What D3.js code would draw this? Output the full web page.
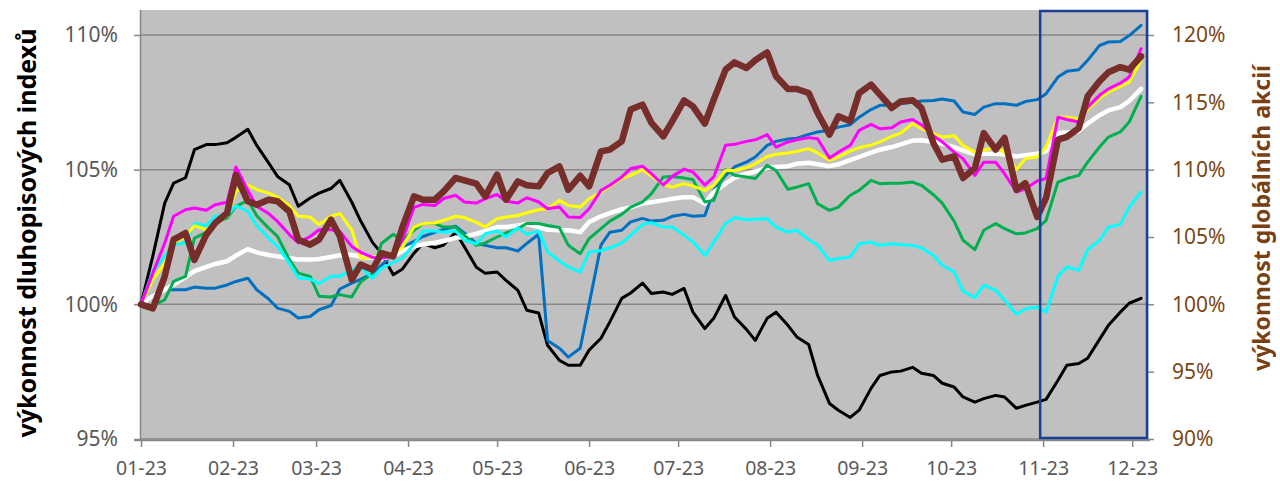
<!DOCTYPE html>
<html>
<head>
<meta charset="utf-8">
<script src="https://cdn.jsdelivr.net/npm/d3@7"></script>
<style>
  body { margin: 0; background: #ffffff; }
  svg { display: block; }
  text { font-family: "Noto Sans", "Open Sans", sans-serif; }
</style>
</head>
<body>
<svg id="chart" width="1280" height="484"></svg>
<script>
// Observation dates (Mondays and Thursdays, 2023)
const dates = [
  "2023-01-01","2023-01-05","2023-01-09","2023-01-12","2023-01-16","2023-01-19","2023-01-23","2023-01-26","2023-01-30",
  "2023-02-02","2023-02-06","2023-02-09","2023-02-13","2023-02-16","2023-02-20","2023-02-23","2023-02-27",
  "2023-03-02","2023-03-06","2023-03-09","2023-03-13","2023-03-16","2023-03-20","2023-03-23","2023-03-27","2023-03-30",
  "2023-04-03","2023-04-06","2023-04-10","2023-04-13","2023-04-17","2023-04-20","2023-04-24","2023-04-27",
  "2023-05-01","2023-05-04","2023-05-08","2023-05-11","2023-05-15","2023-05-18","2023-05-22","2023-05-25","2023-05-29",
  "2023-06-01","2023-06-05","2023-06-08","2023-06-12","2023-06-15","2023-06-19","2023-06-22","2023-06-26","2023-06-29",
  "2023-07-03","2023-07-06","2023-07-10","2023-07-13","2023-07-17","2023-07-20","2023-07-24","2023-07-27","2023-07-31",
  "2023-08-03","2023-08-07","2023-08-10","2023-08-14","2023-08-17","2023-08-21","2023-08-24","2023-08-28","2023-08-31",
  "2023-09-04","2023-09-07","2023-09-11","2023-09-14","2023-09-18","2023-09-21","2023-09-25","2023-09-28",
  "2023-10-02","2023-10-05","2023-10-09","2023-10-12","2023-10-16","2023-10-19","2023-10-23","2023-10-26","2023-10-30",
  "2023-11-02","2023-11-06","2023-11-09","2023-11-13","2023-11-16","2023-11-20","2023-11-23","2023-11-27","2023-11-30",
  "2023-12-04"
];

// Bond index performance (left axis, % of start value)
const bondBlack = [
  100.0, 101.8, 103.76, 104.5, 104.7, 105.74, 105.93, 105.93, 106.0,
  106.2, 106.5, 105.9, 105.25, 104.75, 104.44, 103.64, 103.95,
  104.13, 104.3, 104.6, 103.8, 103.1, 102.3, 101.9, 101.1, 101.3,
  101.9, 102.26, 102.1, 102.2, 102.68, 102.13, 101.38, 101.15,
  101.2, 100.89, 100.52, 99.78, 99.68, 98.48, 97.92, 97.74, 97.74,
  98.3, 98.74, 99.35, 100.22, 100.42, 100.79, 100.4, 100.46, 100.37,
  100.59, 99.71, 99.1, 99.48, 100.33, 99.53, 99.07, 98.66, 99.48,
  99.71, 99.22, 98.79, 98.51, 97.36, 96.32, 96.07, 95.8, 96.07,
  96.88, 97.36, 97.49, 97.52, 97.66, 97.44, 97.36, 97.07,
  96.93, 96.56, 96.37, 96.5, 96.62, 96.56, 96.14, 96.25, 96.37,
  96.47, 97.18, 97.74, 97.8, 98.0, 98.7, 99.22, 99.71, 100.04,
  100.22
];
const bondBlue = [
  100.0, 100.36, 100.54, 100.54, 100.54, 100.64, 100.6, 100.6, 100.72,
  100.85, 100.97, 100.54, 100.2, 99.86, 99.74, 99.49, 99.55,
  99.8, 99.95, 100.57, 100.79, 100.93, 101.15, 101.45, 101.86, 102.12,
  102.34, 102.52, 102.67, 102.78, 102.9, 102.64, 102.26, 102.19,
  102.1, 102.1, 101.98, 102.26, 102.6, 98.66, 98.37, 98.04, 98.37,
  100.0, 102.2, 102.68, 102.75, 103.06, 103.19, 103.09, 103.12, 103.27,
  103.34, 103.27, 103.3, 104.23, 104.79, 105.1, 105.28, 105.47, 105.9,
  106.05, 106.14, 106.17, 106.31, 106.4, 106.46, 106.58, 106.67, 106.95,
  107.23, 107.39, 107.39, 107.45, 107.5, 107.55, 107.57, 107.62,
  107.55, 107.14, 107.05, 107.32, 107.45, 107.45, 107.39, 107.53, 107.6,
  107.82, 108.44, 108.65, 108.71, 109.06, 109.61, 109.74, 109.76, 109.98,
  110.36
];
const bondMagenta = [
  100.0, 101.16, 102.28, 103.27, 103.51, 103.58, 103.49, 103.7, 103.79,
  105.1, 104.23, 103.64, 103.37, 103.08, 102.59, 102.28, 102.52,
  102.77, 102.77, 102.71, 102.15, 101.93, 101.74, 101.71, 101.78, 102.38,
  103.6, 103.71, 103.67, 103.93, 104.05, 103.8, 103.76, 103.92,
  104.08, 103.83, 103.76, 103.96, 103.8, 103.55, 103.61, 103.24, 103.22,
  103.55, 104.23, 104.42, 104.73, 105.04, 105.13, 104.85, 104.43, 104.75,
  105.02, 104.91, 104.43, 104.73, 105.91, 105.94, 106.05, 106.11, 106.3,
  105.84, 106.03, 106.11, 106.19, 106.15, 105.43, 105.65, 105.9, 106.46,
  106.68, 106.52, 106.56, 106.77, 106.86, 106.67, 106.26, 106.03,
  105.65, 105.41, 104.79, 105.28, 105.28, 104.85, 104.17, 104.29, 104.58,
  104.67, 106.95, 106.86, 106.77, 107.32, 107.76, 108.0, 108.21, 108.44,
  109.49
];
const bondYellow = [
  100.0, 100.92, 101.53, 102.28, 102.52, 102.92, 102.77, 103.02, 103.29,
  104.2, 104.44, 104.26, 104.13, 103.98, 103.66, 103.27, 103.24,
  102.96, 103.27, 103.37, 102.77, 101.71, 101.75, 101.8, 101.9, 102.1,
  102.87, 103.0, 103.02, 103.12, 103.27, 103.22, 103.04, 102.87,
  103.18, 103.24, 103.3, 103.4, 103.51, 103.55, 103.86, 103.67, 103.61,
  103.92, 104.15, 104.39, 104.67, 104.79, 105.0, 104.76, 104.45, 104.35,
  104.48, 104.39, 104.23, 104.42, 104.97, 104.97, 105.07, 105.22, 105.49,
  105.57, 105.62, 105.68, 105.78, 105.62, 105.35, 105.47, 105.69, 105.82,
  105.91, 106.03, 106.24, 106.36, 106.71, 106.52, 106.34, 106.21,
  106.26, 105.9, 105.65, 105.72, 105.84, 105.65, 105.0, 105.41, 105.47,
  105.84, 106.95, 106.95, 106.89, 107.23, 107.64, 107.88, 108.09, 108.25,
  109.06
];
const bondWhite = [
  100.0, 100.32, 100.54, 100.73, 101.01, 101.23, 101.39, 101.5, 101.6,
  101.81, 102.05, 101.93, 101.83, 101.78, 101.72, 101.66, 101.66,
  101.68, 101.76, 101.82, 101.84, 101.76, 101.73, 101.7, 101.78, 101.98,
  102.15, 102.23, 102.29, 102.35, 102.47, 102.5, 102.62, 102.72,
  102.87, 102.87, 102.93, 102.98, 102.87, 102.77, 102.75, 102.75, 102.68,
  103.06, 103.27, 103.39, 103.53, 103.6, 103.74, 103.79, 103.86, 103.92,
  103.98, 103.98, 103.74, 104.17, 104.48, 104.7, 104.85, 104.93, 105.07,
  105.1, 105.13, 105.22, 105.26, 105.2, 105.13, 105.2, 105.35, 105.47,
  105.63, 105.74, 105.84, 105.94, 106.08, 106.09, 106.03, 105.97,
  105.84, 105.72, 105.57, 105.59, 105.59, 105.56, 105.49, 105.54, 105.59,
  105.69, 106.36, 106.38, 106.43, 106.71, 107.02, 107.2, 107.32, 107.55,
  108.0
];
const bondGreen = [
  100.0, 99.95, 100.17, 100.85, 101.04, 102.46, 102.67, 103.04, 103.2,
  103.64, 103.86, 103.29, 102.83, 102.52, 101.66, 101.16, 101.04,
  100.3, 100.27, 100.36, 100.27, 100.83, 101.15, 102.26, 102.6, 102.38,
  102.75, 103.0, 103.0, 102.87, 102.87, 102.56, 102.19, 102.28,
  102.5, 102.65, 102.81, 103.0, 103.0, 102.93, 102.85, 102.19, 101.88,
  102.44, 102.81, 103.09, 103.34, 103.61, 103.8, 104.11, 104.73, 104.75,
  104.69, 104.63, 103.8, 103.86, 105.0, 104.79, 104.73, 104.67, 105.16,
  104.97, 104.27, 104.35, 104.48, 103.74, 103.49, 103.61, 104.05, 104.23,
  104.6, 104.48, 104.5, 104.5, 104.54, 104.42, 104.07, 103.76,
  103.09, 102.38, 102.03, 102.75, 103.0, 102.81, 102.62, 102.65, 102.81,
  103.12, 104.54, 104.67, 104.79, 105.28, 105.84, 106.21, 106.4, 106.77,
  107.72
];
const bondCyan = [
  100.0, 101.23, 101.78, 102.22, 102.28, 103.0, 102.92, 103.27, 103.3,
  103.66, 103.45, 102.92, 102.46, 102.15, 101.53, 100.98, 100.94,
  100.77, 101.04, 101.04, 101.29, 101.37, 100.97, 101.34, 101.56, 101.71,
  102.23, 102.72, 102.72, 102.68, 102.72, 102.38, 102.25, 102.62,
  102.72, 102.5, 102.85, 102.6, 102.72, 101.94, 101.61, 101.39, 101.2,
  101.94, 102.0, 102.1, 102.28, 102.56, 102.97, 103.03, 102.87, 102.87,
  102.57, 102.31, 101.82, 102.31, 103.0, 103.22, 103.14, 103.16, 103.18,
  102.87, 102.68, 102.75, 102.4, 102.19, 101.63, 101.7, 101.76, 102.25,
  102.31, 102.19, 102.25, 102.21, 102.19, 102.09, 101.82, 101.45,
  101.2, 100.49, 100.25, 100.71, 100.52, 100.15, 99.63, 99.84, 99.9,
  99.71, 101.04, 101.39, 101.26, 102.03, 102.38, 102.87, 102.97, 103.61,
  104.17
];

// Global equities performance (right axis, % of start value)
const equities = [
  100.0, 99.7, 102.08, 104.8, 105.3, 103.3, 105.17, 106.04, 106.78,
  109.6, 107.65, 107.4, 107.77, 107.65, 106.9, 104.8, 104.43,
  104.8, 106.29, 105.05, 101.83, 102.95, 102.57, 103.81, 103.56, 105.67,
  108.02, 107.77, 107.77, 108.39, 109.38, 109.21, 108.96, 108.02,
  109.63, 107.77, 109.13, 108.84, 108.76, 109.75, 110.25, 108.51, 109.55,
  108.76, 111.36, 111.49, 112.1, 114.46, 114.83, 113.47, 112.48, 113.59,
  115.15, 114.7, 113.42, 115.2, 117.43, 117.97, 117.55, 118.12, 118.71,
  116.93, 115.99, 115.99, 115.69, 114.21, 112.6, 113.96, 113.59, 115.69,
  116.31, 115.57, 114.58, 115.07, 115.15, 114.58, 111.98, 110.74,
  110.99, 109.38, 110.12, 112.72, 111.49, 112.35, 108.51, 109.0, 106.49,
  107.9, 112.23, 112.43, 113.09, 115.45, 116.56, 117.23, 117.62, 117.43,
  118.42
];

// Axis ticks and labels
const leftTicks = [95, 100, 105, 110];
const rightTicks = [90, 95, 100, 105, 110, 115, 120];
const monthTicks = ["2023-01-01","2023-02-01","2023-03-01","2023-04-01","2023-05-01","2023-06-01",
                    "2023-07-01","2023-08-01","2023-09-01","2023-10-01","2023-11-01","2023-12-01"];
const monthLabels = ["01-23","02-23","03-23","04-23","05-23","06-23","07-23","08-23","09-23","10-23","11-23","12-23"];
const xDomain = ["2023-01-01", "2023-12-06"];
const highlightFrom = "2023-10-31";
const leftTitle = "výkonnost dluhopisových indexů";
const rightTitle = "výkonnost globálních akcií";

// ---- drawing ----
const parse = d3.utcParse("%Y-%m-%d");
const svg = d3.select("#chart");
const plot = { left: 141, right: 1147, top: 10, bottom: 440 };

const x = d3.scaleUtc().domain(xDomain.map(parse)).range([plot.left, plot.right]);
const yL = d3.scaleLinear().domain([95, 110]).range([439, 35]);
const yR = d3.scaleLinear().domain([90, 120]).range([439, 35]);

const gridColor = "#878787";
const tickText = "#595959";
const equityText = "#7a4716";

// plot background
svg.append("rect")
  .attr("x", plot.left).attr("y", plot.top)
  .attr("width", plot.right - plot.left).attr("height", plot.bottom - plot.top)
  .attr("fill", "#c0c0c0");

// horizontal gridlines from the left axis ticks
svg.append("g").selectAll("line").data(leftTicks).join("line")
  .attr("x1", plot.left).attr("x2", plot.right)
  .attr("y1", d => yL(d)).attr("y2", d => yL(d))
  .attr("stroke", gridColor).attr("stroke-width", 1.5);

// left axis
const leftAxis = svg.append("g")
  .attr("transform", `translate(${plot.left},0)`)
  .call(d3.axisLeft(yL).tickValues(leftTicks).tickSize(7).tickPadding(16)
    .tickFormat(d => d + "%"));
leftAxis.select(".domain").attr("stroke", gridColor).attr("stroke-width", 1.5)
  .attr("d", `M-0.5,${plot.top}V${plot.bottom}`);
leftAxis.selectAll(".tick line").attr("stroke", gridColor).attr("stroke-width", 1.5);
leftAxis.selectAll(".tick text").attr("fill", tickText).style("font-size", "21px");

// right axis
const rightAxis = svg.append("g")
  .attr("transform", `translate(${plot.right},0)`)
  .call(d3.axisRight(yR).tickValues(rightTicks).tickSize(7).tickPadding(18)
    .tickFormat(d => d + "%"));
rightAxis.select(".domain").attr("stroke", gridColor).attr("stroke-width", 1.5)
  .attr("d", `M0.5,${plot.top}V${plot.bottom}`);
rightAxis.selectAll(".tick line").attr("stroke", gridColor).attr("stroke-width", 1.5);
rightAxis.selectAll(".tick text").attr("fill", equityText).style("font-size", "21px");

// bottom axis
const bottomAxis = svg.append("g")
  .attr("transform", `translate(0,${plot.bottom})`)
  .call(d3.axisBottom(x).tickValues(monthTicks.map(parse)).tickSize(7).tickPadding(14)
    .tickFormat((d, i) => monthLabels[i]));
bottomAxis.select(".domain").attr("stroke", gridColor).attr("stroke-width", 1.5)
  .attr("d", `M${plot.left - 7},0.5H${plot.right + 3}`);
bottomAxis.selectAll(".tick line").attr("stroke", gridColor).attr("stroke-width", 1.5);
bottomAxis.selectAll(".tick text").attr("fill", tickText).style("font-size", "19.5px");

svg.selectAll(".tick text").style("font-family", "'Noto Sans', sans-serif");

// lines
const seriesStyle = [
  { values: bondBlack,   color: "#000000", width: 3,   axis: yL },
  { values: bondBlue,    color: "#0070c0", width: 3,   axis: yL },
  { values: bondWhite,   color: "#ffffff", width: 4.5, axis: yL },
  { values: bondGreen,   color: "#00b050", width: 3,   axis: yL },
  { values: bondCyan,    color: "#00ffff", width: 3,   axis: yL },
  { values: bondYellow,  color: "#ffff00", width: 3,   axis: yL },
  { values: bondMagenta, color: "#ff00ff", width: 3,   axis: yL },
  { values: equities,    color: "#772d29", width: 6.5, axis: yR }
];
const dateObjs = dates.map(parse);
const lineLayer = svg.append("g");
seriesStyle.forEach(s => {
  const line = d3.line()
    .x((d, i) => x(dateObjs[i]))
    .y(d => s.axis(d))
    .curve(d3.curveLinear);
  lineLayer.append("path")
    .datum(s.values)
    .attr("d", line)
    .attr("fill", "none")
    .attr("stroke", s.color)
    .attr("stroke-width", s.width)
    .attr("stroke-linejoin", "round")
    .attr("stroke-linecap", "round");
});

// highlighted final period
svg.append("rect")
  .attr("x", x(parse(highlightFrom)))
  .attr("y", plot.top + 1)
  .attr("width", plot.right - x(parse(highlightFrom)))
  .attr("height", 437 - plot.top)
  .attr("fill", "none")
  .attr("stroke", "#1a3f96")
  .attr("stroke-width", 2.5);

// axis titles
svg.append("text")
  .attr("transform", "translate(36,233) rotate(-90)")
  .attr("text-anchor", "middle")
  .attr("fill", "#000000")
  .style("font-size", "25px").style("font-weight", "bold")
  .text(leftTitle);

svg.append("text")
  .attr("transform", "translate(1270,218) rotate(-90)")
  .attr("text-anchor", "middle")
  .attr("fill", "#7a3f12")
  .style("font-size", "23px").style("font-weight", "bold")
  .text(rightTitle);
</script>
</body>
</html>
